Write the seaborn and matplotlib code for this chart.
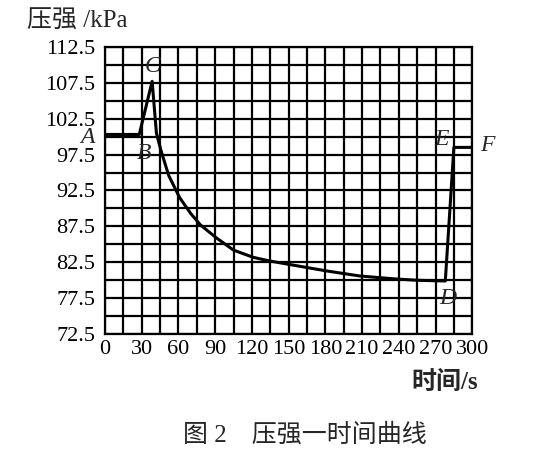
import numpy as np
import pandas as pd
import seaborn as sns
import matplotlib.pyplot as plt

sns.set_theme(style="white")
plt.rcParams['font.family'] = ['Liberation Serif', 'Noto Sans CJK SC']

# pressure-time curve
time_s = [0, 28, 38.5, 42, 45.5, 52, 61, 70, 78, 91, 105, 121, 134,
          154, 181, 208, 236, 255, 278, 285, 299]
pressure_kpa = [100.3, 100.3, 107.7, 100.5, 98.2, 94.6, 91.5, 89.3, 87.7,
                85.9, 84.2, 83.2, 82.7, 82.1, 81.3, 80.6, 80.2, 80.0, 79.9,
                98.5, 98.5]

x_ticks = list(range(0, 301, 30))
y_ticks = [72.5, 77.5, 82.5, 87.5, 92.5, 97.5, 102.5, 107.5, 112.5]

point_names = ['A', 'B', 'C', 'D', 'E', 'F']
point_t = [-14, 32, 38.5, 280, 275, 312]
point_p = [99.9, 97.6, 109.8, 77.4, 99.6, 98.7]

df = pd.DataFrame({'t': time_s, 'p': pressure_kpa})

fig = plt.figure(figsize=(5.33, 4.59), dpi=100)
ax = fig.add_axes([0.197, 0.272, 0.689, 0.626])

sns.lineplot(data=df, x='t', y='p', sort=False, color='black', lw=2.2, ax=ax,
             zorder=3)

ax.set_xlim(0, 300)
ax.set_ylim(72.5, 112.5)
ax.set_xticks(x_ticks)
ax.set_xticks(np.arange(15, 300, 30), minor=True)
ax.set_yticks(y_ticks)
ax.set_yticks(np.arange(75, 112.5, 5), minor=True)
ax.set_xticklabels([str(v) for v in x_ticks])
ax.set_yticklabels([f'{v:.1f}' for v in y_ticks])
ax.grid(True, which='both', color='black', lw=1.6)
ax.tick_params(which='both', length=0, labelsize=16, colors='black')
ax.tick_params(axis='y', pad=7)
ax.tick_params(axis='x', pad=4)
for s in ax.spines.values():
    s.set_color('black')
    s.set_linewidth(1.6)
ax.set_xlabel('')
ax.set_ylabel('')

for name, t, p in zip(point_names, point_t, point_p):
    ax.text(t, p, name, fontsize=17, style='italic', ha='center', va='center',
            clip_on=False)

fig.text(0.05, 0.953, '压强 /kPa', fontsize=18, va='center', ha='left')
fig.text(0.835, 0.166, '时间/s', fontsize=18, va='center', ha='center',
         fontweight='bold')
fig.text(0.572, 0.052, '图 2    压强一时间曲线', fontsize=18, va='center', ha='center')

fig.savefig('out.png', dpi=100)
